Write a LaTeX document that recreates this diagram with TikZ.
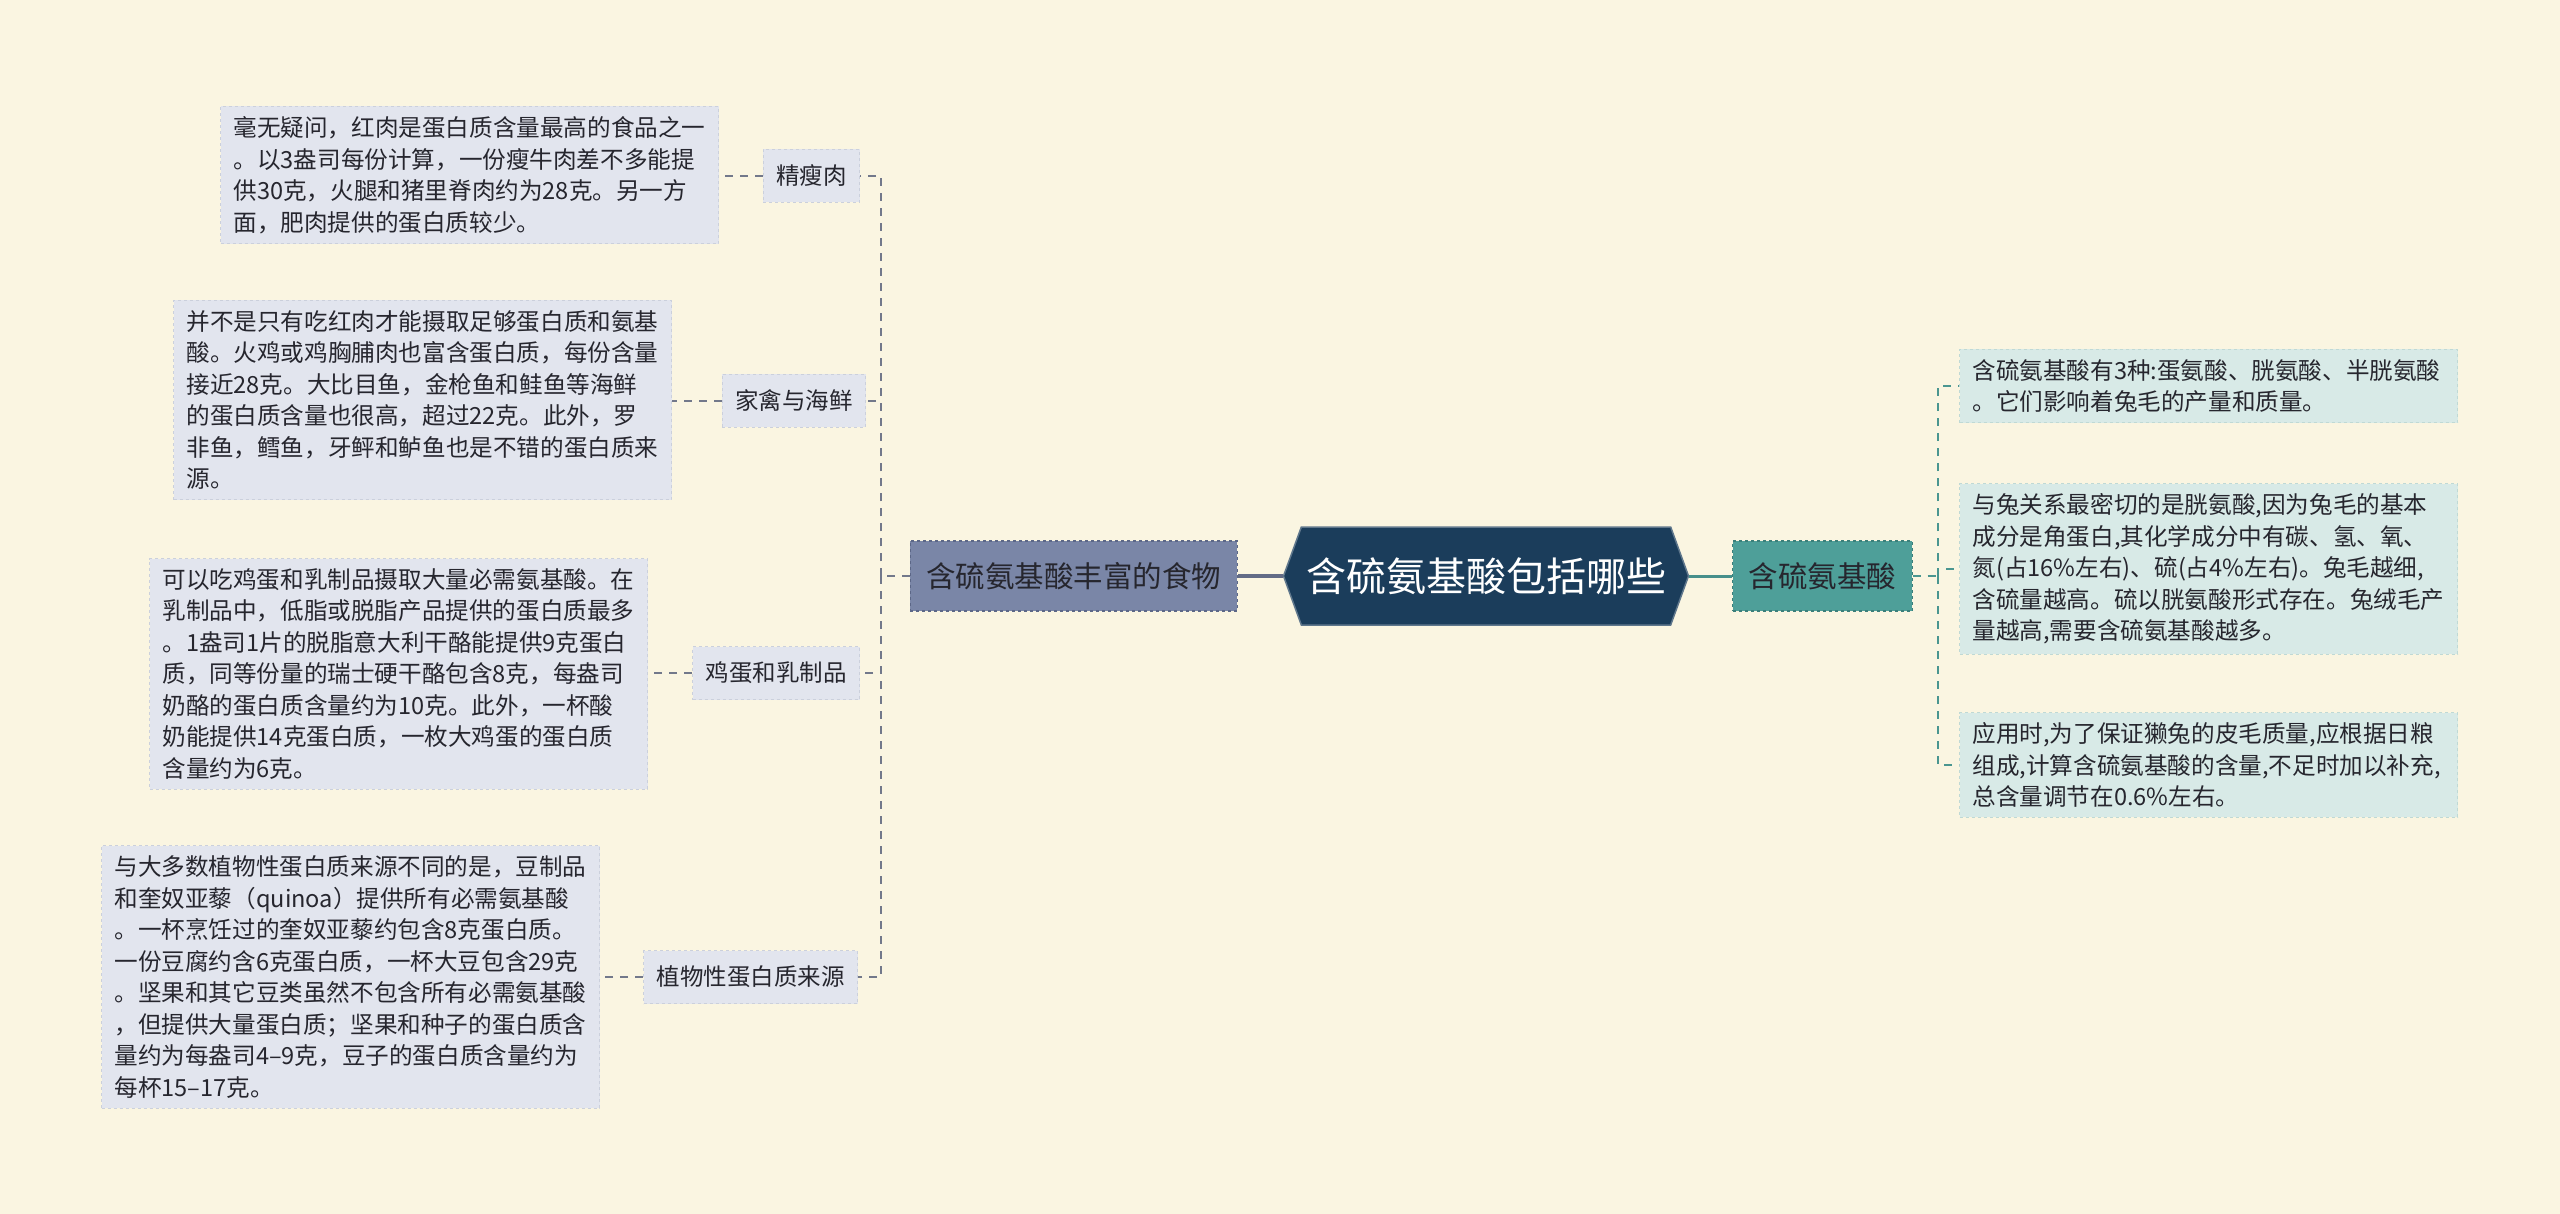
\documentclass[tikz,border=0pt]{standalone}
\usepackage{fontspec}
\newfontfamily\cjk{Noto Sans CJK SC}
\usetikzlibrary{shapes.symbols}
\definecolor{bgc}{HTML}{FAF5E1}
\definecolor{navyc}{HTML}{1B3D5B}
\definecolor{slatec}{HTML}{7A86A7}
\definecolor{slated}{HTML}{5C6787}
\definecolor{tealc}{HTML}{4E9F99}
\definecolor{teald}{HTML}{3B7F7A}
\definecolor{leafc}{HTML}{E2E5EE}
\definecolor{leafd}{HTML}{CBD0DC}
\definecolor{rleafc}{HTML}{D8EAE7}
\definecolor{rleafd}{HTML}{BFD9D5}
\definecolor{lconn}{HTML}{72788A}
\definecolor{rconn}{HTML}{4A9690}
\definecolor{txtc}{HTML}{26262E}
\begin{document}
\begin{tikzpicture}[
        x=1pt, y=-1pt,
        every node/.style={font=\cjk, inner sep=0pt, text=txtc},
        rootn/.style={signal, signal to=east and west, signal pointer angle=140,
            fill=navyc, draw=navyc!70!white, line width=1.5pt, minimum width=405pt,
            minimum height=98pt, text=white, font=\cjk\fontsize{40}{48}\selectfont},
        mainn/.style={dashed, line width=1.2pt, minimum height=70pt, inner xsep=16pt,
            font=\cjk\fontsize{29.5}{35}\selectfont},
        foodn/.style={mainn, fill=slatec, draw=slated},
        acidn/.style={mainn, fill=tealc, draw=teald},
        subn/.style={fill=leafc, draw=leafd, dashed, line width=1pt, minimum height=53pt,
            inner xsep=13pt, font=\cjk\fontsize{23.5}{28}\selectfont},
        leafn/.style={fill=leafc, draw=leafd, dashed, line width=1pt, text width=472pt,
            inner xsep=13pt, inner ysep=10pt, align=left,
            font=\cjk\fontsize{23.6}{31.5}\selectfont},
        rleafn/.style={leafn, fill=rleafc, draw=rleafd},
        lline/.style={draw=lconn, line width=2.4pt, dash pattern=on 8pt off 7pt},
        rline/.style={draw=rconn, line width=2.4pt, dash pattern=on 8pt off 7pt},
    ]
    \fill[bgc] (0,0) rectangle (2560,1214);
    \useasboundingbox (0,0) rectangle (2560,1214);

    % centre and main branches
    \node[rootn](root) at (1486,576){含硫氨基酸包括哪些};
    \node[foodn, anchor=east](food) at (1238,576){含硫氨基酸丰富的食物};
    \node[acidn, anchor=west](acid) at (1732,576){含硫氨基酸};
    \draw[slatec!80!black, line width=4pt] (root.west) -- (food.east);
    \draw[tealc!90!black, line width=3pt] (root.east) -- (acid.west);

    % left side
    \node[subn, anchor=east](meat) at (860,176){精瘦肉};
    \node[subn, anchor=east](poultry) at (866,401){家禽与海鲜};
    \node[subn, anchor=east](egg) at (860,673){鸡蛋和乳制品};
    \node[subn, anchor=east](plant) at (858,977){植物性蛋白质来源};

    \node[leafn, anchor=west](meattxt) at (220,175){毫无疑问，红肉是蛋白质含量最高的食品之一\\
        。以3盎司每份计算，一份瘦牛肉差不多能提\\
        供30克，火腿和猪里脊肉约为28克。另一方\\
        面，肥肉提供的蛋白质较少。};
    \node[leafn, anchor=west](poultrytxt) at (173,400){并不是只有吃红肉才能摄取足够蛋白质和氨基\\
        酸。火鸡或鸡胸脯肉也富含蛋白质，每份含量\\
        接近28克。大比目鱼，金枪鱼和鲑鱼等海鲜\\
        的蛋白质含量也很高，超过22克。此外，罗\\
        非鱼，鳕鱼，牙鲆和鲈鱼也是不错的蛋白质来\\
        源。};
    \node[leafn, anchor=west](eggtxt) at (149,674){可以吃鸡蛋和乳制品摄取大量必需氨基酸。在\\
        乳制品中，低脂或脱脂产品提供的蛋白质最多\\
        。1盎司1片的脱脂意大利干酪能提供9克蛋白\\
        质，同等份量的瑞士硬干酪包含8克，每盎司\\
        奶酪的蛋白质含量约为10克。此外，一杯酸\\
        奶能提供14克蛋白质，一枚大鸡蛋的蛋白质\\
        含量约为6克。};
    \node[leafn, anchor=west](planttxt) at (101,977){与大多数植物性蛋白质来源不同的是，豆制品\\
        和奎奴亚藜（quinoa）提供所有必需氨基酸\\
        。一杯烹饪过的奎奴亚藜约包含8克蛋白质。\\
        一份豆腐约含6克蛋白质，一杯大豆包含29克\\
        。坚果和其它豆类虽然不包含所有必需氨基酸\\
        ，但提供大量蛋白质；坚果和种子的蛋白质含\\
        量约为每盎司4–9克，豆子的蛋白质含量约为\\
        每杯15–17克。};

    \coordinate (lt) at (881,576);
    \draw[lline] (food.west) -- (lt);
    \foreach \n in {meat,poultry,egg,plant}{
        \draw[lline] (lt) |- (\n.east);
        \draw[lline] (\n.west) -- (\n.west -| \n txt.east);
    }

    % right side
    \node[rleafn, anchor=west](kinds) at (1959,386){含硫氨基酸有3种:蛋氨酸、胱氨酸、半胱氨酸\\
        。它们影响着兔毛的产量和质量。};
    \node[rleafn, anchor=west](cystine) at (1959,569){与兔关系最密切的是胱氨酸,因为兔毛的基本\\
        成分是角蛋白,其化学成分中有碳、氢、氧、\\
        氮(占16\%左右)、硫(占4\%左右)。兔毛越细,\\
        含硫量越高。硫以胱氨酸形式存在。兔绒毛产\\
        量越高,需要含硫氨基酸越多。};
    \node[rleafn, anchor=west](usage) at (1959,765){应用时,为了保证獭兔的皮毛质量,应根据日粮\\
        组成,计算含硫氨基酸的含量,不足时加以补充,\\
        总含量调节在0.6\%左右。};

    \coordinate (rt) at (1938,576);
    \draw[rline] (acid.east) -- (rt);
    \foreach \n in {kinds,cystine,usage}
        \draw[rline] (rt) |- (\n.west);
\end{tikzpicture}
\end{document}
